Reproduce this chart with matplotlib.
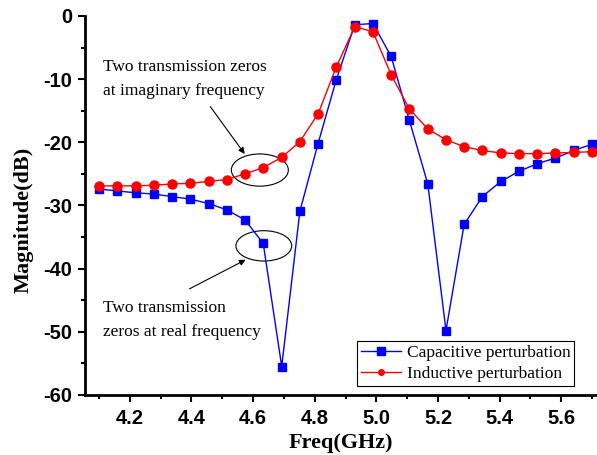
import matplotlib
matplotlib.use("Agg")
import matplotlib.pyplot as plt
from matplotlib.patches import Ellipse
from matplotlib.lines import Line2D

plt.rcParams["axes.unicode_minus"] = False

# frequences (GHz)
freq = [4.100, 4.159, 4.219, 4.278, 4.337, 4.396, 4.456, 4.515, 4.574, 4.633,
        4.693, 4.752, 4.811, 4.870, 4.930, 4.989, 5.048, 5.107, 5.167, 5.226,
        5.285, 5.344, 5.404, 5.463, 5.522, 5.581, 5.641, 5.700]

# perturbation capacitive (bleu)
capacitive = [-27.4, -27.7, -28.0, -28.2, -28.6, -29.0, -29.7, -30.7, -32.3, -36.0,
              -55.5, -30.9, -20.2, -10.1, -1.4, -1.2, -6.4, -16.5, -26.6, -49.8,
              -33.0, -28.6, -26.2, -24.6, -23.4, -22.5, -21.3, -20.3]

# perturbation inductive (rouge)
inductive = [-26.9, -26.9, -26.9, -26.8, -26.6, -26.5, -26.2, -25.9, -25.0, -24.0,
             -22.4, -19.9, -15.5, -8.1, -1.7, -2.5, -9.3, -14.7, -17.9, -19.6,
             -20.7, -21.3, -21.7, -21.8, -21.8, -21.7, -21.6, -21.5]

xticks = [4.2, 4.4, 4.6, 4.8, 5.0, 5.2, 5.4, 5.6]
yticks = [0, -10, -20, -30, -40, -50, -60]

serif = "Liberation Serif"
sans = "Liberation Sans"

fig = plt.figure(figsize=(5.97, 4.55), dpi=100)
ax = fig.add_axes([0.142, 0.132, 0.858, 0.833])

ax.plot(freq, capacitive, color="#0000ff", lw=1.0, marker="s", ms=6, mec="#0000ff", mfc="#0000ff")
ax.plot(freq, inductive, color="#ff0000", lw=1.0, marker="o", ms=6.5, mec="#ff0000", mfc="#ff0000")

ax.set_xlim(4.054, 5.716)
ax.set_ylim(-60, 0)
ax.set_xticks(xticks)
ax.set_xticklabels([f"{v:.1f}" for v in xticks])
ax.set_yticks(yticks)
ax.set_yticklabels([str(v) for v in yticks])
ax.set_xticks([4.1, 4.3, 4.5, 4.7, 4.9, 5.1, 5.3, 5.5, 5.7], minor=True)
ax.set_yticks([-5, -15, -25, -35, -45, -55], minor=True)

for s in ["top", "right"]:
    ax.spines[s].set_visible(False)
for s in ["left", "bottom"]:
    ax.spines[s].set_linewidth(2)

ax.tick_params(which="major", direction="out", length=5, width=1.5)
ax.tick_params(which="minor", direction="out", length=3, width=1.5)
ax.tick_params(axis="x", which="major", pad=5)
ax.tick_params(axis="y", which="major", pad=4)
for lab in ax.get_xticklabels() + ax.get_yticklabels():
    lab.set_fontfamily(sans)
    lab.set_fontweight("bold")
    lab.set_fontsize(14.5)

ax.set_xlabel("Freq(GHz)", fontfamily=serif, fontweight="bold", fontsize=16, labelpad=4)
ax.set_ylabel("Magnitude(dB)", fontfamily=serif, fontweight="bold", fontsize=16)
ax.yaxis.set_label_coords(-0.099, 0.462)

# ellipses autour des zeros
ax.add_patch(Ellipse((4.622, -24.4), 0.185, 5.1, fill=False, ec="black", lw=0.8))
ax.add_patch(Ellipse((4.635, -36.4), 0.181, 4.8, fill=False, ec="black", lw=0.8))

ax.annotate("", xy=(4.578, -22.2), xytext=(4.456, -14.0),
            arrowprops=dict(arrowstyle="-|>", color="black", lw=0.8, mutation_scale=9))
ax.annotate("", xy=(4.584, -38.4), xytext=(4.386, -43.4),
            arrowprops=dict(arrowstyle="-|>", color="black", lw=0.8, mutation_scale=9))

ax.text(4.113, -8.1, "Two transmission zeros", fontfamily=serif, fontsize=12.5, va="center")
ax.text(4.113, -11.9, "at imaginary frequency", fontfamily=serif, fontsize=12.5, va="center")
ax.text(4.112, -46.2, "Two transmission", fontfamily=serif, fontsize=12.5, va="center")
ax.text(4.112, -50.0, "zeros at real frequency", fontfamily=serif, fontsize=12.5, va="center")

handles = [
    Line2D([], [], color="#0000ff", lw=1.0, marker="s", ms=6),
    Line2D([], [], color="#ff0000", lw=1.0, marker="o", ms=4),
]
leg = ax.legend(handles, ["Capacitive perturbation", "Inductive perturbation"],
                loc="lower right", bbox_to_anchor=(0.962, 0.015),
                prop={"family": serif, "size": 12.5}, frameon=True, fancybox=False,
                edgecolor="black", framealpha=1, borderpad=0.2, labelspacing=0.3,
                handlelength=2.3, handletextpad=0.35, borderaxespad=0.2)
leg.get_frame().set_linewidth(0.8)

fig.savefig("out.png", dpi=100)
